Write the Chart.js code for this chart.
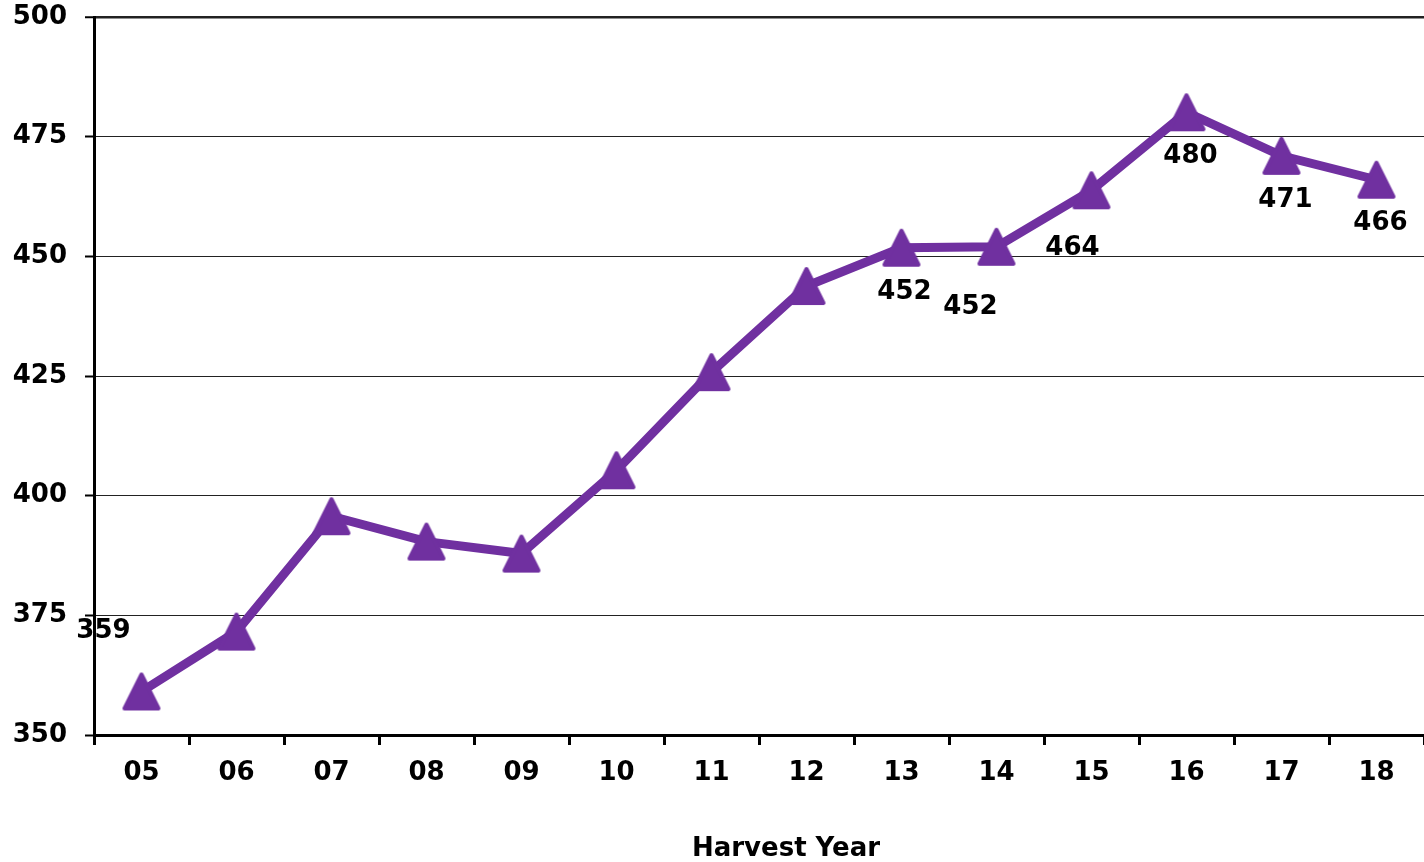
<!DOCTYPE html>
<html>
<head>
<meta charset="utf-8">
<script src="https://cdn.jsdelivr.net/npm/chart.js@4.4.1/dist/chart.umd.min.js"></script>
<style>
  html, body { margin: 0; padding: 0; background: #fff; }
  #wrap { width: 1424px; height: 862px; position: relative; }
</style>
</head>
<body>
<div id="wrap"><canvas id="chart"></canvas></div>
<script>
/* Harvest year trend: purple line with triangle markers */
var YEARS = ["05", "06", "07", "08", "09", "10", "11", "12", "13", "14", "15", "16", "17", "18"];
var VALUES = [359.1, 371.6, 395.7, 390.4, 387.9, 405.3, 425.8, 443.8, 451.8, 452.0, 463.8, 480.1, 471.0, 466.0];
// which points carry a value label
var LABELLED = [true, false, false, false, false, false, false, false, true, true, true, true, true, true];
var Y_MIN = 350;
var Y_MAX = 500;
var Y_STEP = 25;
var X_TITLE = "Harvest Year";

var PURPLE = "#7030A0";
var FONT = "'DejaVu Sans', Verdana, sans-serif";

// label offset from its point, px (styling only)
var LABEL_OFFSETS = [[-38, -60], null, null, null, null, null, null, null, [3, 45], [-26, 60], [-19, 58], [4, 44], [4, 44], [4, 44]];

function makeTriangle() {
  var c = document.createElement("canvas");
  c.width = 42;
  c.height = 42;
  var g = c.getContext("2d");
  g.fillStyle = PURPLE;
  g.strokeStyle = PURPLE;
  g.lineWidth = 4;
  g.lineJoin = "round";
  g.beginPath();
  g.moveTo(21, 4);
  g.lineTo(38, 38);
  g.lineTo(4, 38);
  g.closePath();
  g.fill();
  g.stroke();
  return c;
}

var valueLabels = {
  id: "valueLabels",
  afterDatasetsDraw: function (chart) {
    var ctx = chart.ctx;
    var meta = chart.getDatasetMeta(0);
    ctx.save();
    ctx.font = "bold 26px " + FONT;
    ctx.fillStyle = "#000";
    ctx.textAlign = "center";
    ctx.textBaseline = "middle";
    meta.data.forEach(function (pt, i) {
      if (!LABELLED[i]) return;
      var off = LABEL_OFFSETS[i] || [0, -40];
      ctx.fillText(String(Math.round(VALUES[i])), pt.x + off[0], pt.y + off[1]);
    });
    // axis title
    var area = chart.chartArea;
    ctx.fillText(X_TITLE, (area.left + area.right) / 2 + 27, 849);
    ctx.restore();
  },
};

new Chart(document.getElementById("chart"), {
  type: "line",
  data: {
    labels: YEARS,
    datasets: [
      {
        data: VALUES,
        borderColor: PURPLE,
        backgroundColor: PURPLE,
        borderWidth: 9,
        tension: 0,
        pointStyle: makeTriangle(),
        pointRadius: 21,
        clip: false,
      },
    ],
  },
  options: {
    responsive: true,
    maintainAspectRatio: false,
    animation: false,
    layout: { autoPadding: false, padding: { top: 17, right: 0, left: 0, bottom: 0 } },
    plugins: {
      legend: { display: false },
      tooltip: { enabled: false },
    },
    scales: {
      x: {
        offset: true,
        afterFit: function (s) { s.height = 127; s.paddingLeft = 0; s.paddingRight = 0; },
        grid: {
          offset: true,
          drawOnChartArea: false,
          drawTicks: true,
          tickLength: 10,
          tickWidth: 3,
          tickColor: "#000",
        },
        border: { display: true, color: "#000", width: 3 },
        ticks: {
          color: "#000",
          padding: 13,
          maxRotation: 0,
          font: { family: FONT, size: 26, weight: "bold", lineHeight: 1.2 },
        },
      },
      y: {
        min: Y_MIN,
        max: Y_MAX,
        afterFit: function (s) { s.width = 94; s.paddingTop = 0; s.paddingBottom = 0; },
        grid: {
          color: "#222",
          lineWidth: function (ctx) { return ctx.tick && ctx.tick.value === Y_MAX ? 2.5 : 1; },
          tickLength: 9,
          tickWidth: 2,
          tickColor: "#000",
        },
        border: { display: true, color: "#000", width: 3 },
        ticks: {
          stepSize: Y_STEP,
          color: "#000",
          padding: 18,
          font: { family: FONT, size: 26, weight: "bold" },
        },
      },
    },
  },
  plugins: [valueLabels],
});
</script>
</body>
</html>
